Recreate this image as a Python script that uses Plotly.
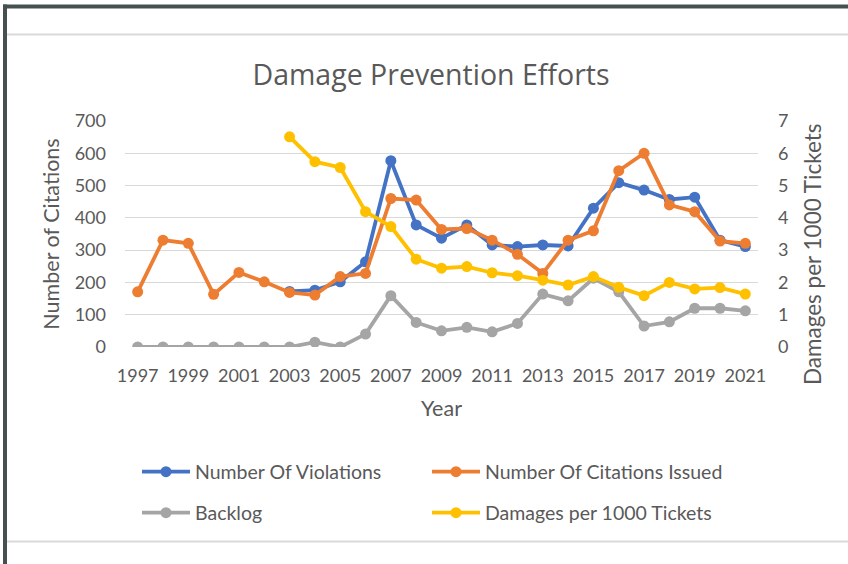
import plotly.graph_objects as go

years = list(range(1997, 2022))
violations_years = list(range(2003, 2022))
violations = [172, 176, 202, 264, 577, 378, 337, 378, 316, 311, 316, 313, 430, 509, 486, 457, 464, 331, 311]
citations = [171, 331, 321, 163, 231, 202, 169, 161, 218, 228, 460, 455, 364, 367, 331, 287, 228, 331, 360, 546, 600, 440, 419, 328, 321]
backlog = [0, 0, 0, 0, 0, 0, 0, 15, 0, 40, 159, 76, 50, 61, 47, 73, 164, 143, 213, 171, 65, 78, 120, 120, 112]
damages_years = list(range(2003, 2022))
damages = [6.51, 5.74, 5.56, 4.19, 3.73, 2.72, 2.44, 2.49, 2.30, 2.21, 2.07, 1.92, 2.18, 1.85, 1.59, 2.00, 1.80, 1.84, 1.64]

C_BLUE = "#4472C4"
C_ORANGE = "#ED7D31"
C_GRAY = "#A5A5A5"
C_YELLOW = "#FFC000"
TXT = "#595959"
FONT = "Lato"

W, H = 848, 564
L, R, T, B = 125, 758, 121, 347

def px(x):
    return (x - L) / (R - L)

def py(y):
    return (B - y) / (B - T)

fig = go.Figure()

def add(x, y, name, color, legend, yaxis="y"):
    fig.add_trace(go.Scatter(
        x=x, y=y, name=name, mode="lines+markers",
        line=dict(color=color, width=3.8),
        marker=dict(color=color, size=11),
        legend=legend, yaxis=yaxis,
    ))

add(violations_years, violations, "Number Of Violations", C_BLUE, "legend")
add(years, citations, "Number Of Citations Issued", C_ORANGE, "legend2")
add(years, backlog, "Backlog", C_GRAY, "legend3")
add(damages_years, damages, "Damages per 1000 Tickets", C_YELLOW, "legend4", "y2")

def leg(x, y):
    return dict(
        x=px(x), y=py(y), orientation="h", xanchor="left", yanchor="middle",
        font=dict(family=FONT, size=19.5, color=TXT),
        itemwidth=48, bgcolor="rgba(0,0,0,0)",
    )

AX_TITLE = dict(family=FONT, size=21.5, color=TXT)
TICK = dict(family=FONT, size=18, color=TXT)

fig.update_layout(
    width=W, height=H,
    margin=dict(l=L, r=W - R, t=T, b=H - B),
    paper_bgcolor="white", plot_bgcolor="white",
    title=dict(text="Damage Prevention Efforts", x=(431 - L) / (R - L), xanchor="center",
               xref="paper",
               y=1 - 75 / H, yanchor="middle",
               font=dict(family="Open Sans", size=28.5, color=TXT)),
    xaxis=dict(range=[1996.5, 2021.5], tick0=1997, dtick=2, showgrid=False,
               zeroline=False, showline=False, ticks="", ticklabelstandoff=16,
               tickfont=TICK,
               title=dict(text="Year", font=AX_TITLE, standoff=15)),
    yaxis=dict(range=[0, 700], dtick=100, showgrid=True, gridcolor="#D9D9D9", gridwidth=1.3,
               zeroline=False, showline=False, ticks="", ticklabelstandoff=18,
               tickfont=TICK,
               title=dict(text="Number of Citations", font=AX_TITLE, standoff=9)),
    yaxis2=dict(range=[0, 7], dtick=1, overlaying="y", side="right", showgrid=False,
                zeroline=False, showline=False, ticks="", ticklabelstandoff=19,
                tickfont=TICK),
    legend=leg(137, 472),
    legend2=leg(427, 472),
    legend3=leg(137, 513),
    legend4=leg(427, 513),
    showlegend=True,
)

# right axis title (placed where the original puts it, slightly below centre)
fig.add_annotation(text="Damages per 1000 Tickets", xref="paper", yref="paper",
                   x=px(812), y=py(254), textangle=-90, showarrow=False,
                   xanchor="center", yanchor="middle", font=dict(family=FONT, size=22.5, color=TXT))

# frame of the original screenshot
fig.add_shape(type="rect", xref="paper", yref="paper",
              x0=px(3), x1=px(W + 5), y0=py(4.5), y1=py(8.5),
              fillcolor="#475050", line_width=0, layer="above")
fig.add_shape(type="rect", xref="paper", yref="paper",
              x0=px(3), x1=px(7), y0=py(4.5), y1=py(H + 5),
              fillcolor="#475050", line_width=0, layer="above")
fig.add_shape(type="line", xref="paper", yref="paper",
              x0=px(7), x1=px(W + 5), y0=py(34.5), y1=py(34.5),
              line=dict(color="#D9D9D9", width=2))
fig.add_shape(type="line", xref="paper", yref="paper",
              x0=px(7), x1=px(W + 5), y0=py(541.5), y1=py(541.5),
              line=dict(color="#D9D9D9", width=2))

fig.write_html("out.html")
